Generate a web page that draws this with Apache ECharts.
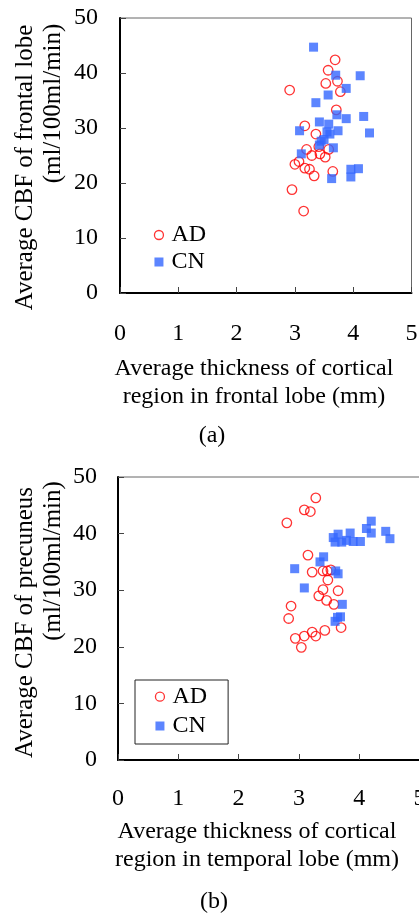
<!DOCTYPE html>
<html>
<head>
<meta charset="utf-8">
<script src="https://cdn.jsdelivr.net/npm/echarts@6/dist/echarts.min.js"></script>
<style>
  html, body { margin: 0; padding: 0; background: #fff; }
  #chart { width: 419px; height: 913px; }
</style>
</head>
<body>
<div id="chart"></div>
<script>
// (a) frontal lobe
const adFrontalX = [3.69, 3.57, 3.53, 3.73, 3.78, 2.91, 3.71, 3.17, 3.36, 3.20, 3.41, 3.58, 3.29, 3.43, 3.52, 3.07, 3.00, 3.17, 3.25, 3.33, 3.65, 2.95, 3.15]
const adFrontalY = [42.4, 40.5, 38.1, 38.5, 36.6, 36.9, 33.3, 30.4, 28.9, 26.1, 26.6, 26.1, 25.0, 25.3, 24.7, 23.9, 23.4, 22.7, 22.5, 21.3, 22.1, 18.8, 14.9]
const cnFrontalX = [3.32, 3.70, 4.12, 3.88, 3.57, 3.36, 3.72, 3.88, 4.18, 3.42, 3.58, 3.08, 3.74, 4.28, 3.60, 3.50, 3.45, 3.42, 3.66, 3.11, 3.96, 4.09, 3.96, 3.63, 3.55]
const cnFrontalY = [44.7, 39.6, 39.5, 37.2, 36.0, 34.6, 32.4, 31.7, 32.1, 31.1, 30.7, 29.5, 29.5, 29.1, 28.9, 27.9, 27.6, 26.9, 26.4, 25.3, 22.5, 22.6, 21.1, 20.8, 29.3]

// (b) precuneus vs temporal lobe
const adPrecX = [3.28, 3.09, 3.19, 2.80, 3.15, 3.22, 3.40, 3.47, 3.53, 3.48, 3.40, 3.65, 3.33, 3.46, 3.58, 2.87, 2.83, 3.22, 3.43, 3.70, 2.94, 3.09, 3.28, 3.04]
const adPrecY = [46.3, 44.2, 43.9, 41.9, 36.2, 33.2, 33.4, 33.4, 33.6, 31.8, 30.1, 29.9, 29.0, 28.2, 27.5, 27.2, 25.0, 22.6, 22.9, 23.4, 21.5, 21.9, 21.9, 19.9]
const cnPrecX = [4.20, 4.12, 4.20, 4.44, 4.51, 3.85, 3.65, 3.57, 3.60, 3.71, 3.90, 4.02, 3.79, 3.41, 3.35, 2.93, 3.61, 3.65, 3.09, 3.72, 3.69, 3.64, 3.60]
const cnPrecY = [42.2, 40.9, 40.1, 40.4, 39.1, 40.1, 39.9, 39.3, 38.5, 38.5, 38.6, 38.6, 38.8, 35.9, 35.0, 33.8, 33.4, 32.9, 30.4, 27.5, 25.3, 25.2, 24.5]

const xTicks = ['0', '1', '2', '3', '4', '5']
const yTicks = ['0', '10', '20', '30', '40', '50']
const seriesNames = ['AD', 'CN']

const FONT = 'Liberation Serif'
const RED = '#ff0000'
const BLUE = '#3366ff'

const pairs = (xs, ys) => xs.map((x, i) => [x, ys[i]])

function xAxisOf(gridIndex, margin) {
  return {
    gridIndex, type: 'value', min: 0, max: 5, interval: 1,
    axisLine: { onZero: false, lineStyle: { color: '#000', width: 2 } },
    axisTick: { inside: true, length: 6, lineStyle: { color: '#444' } },
    axisLabel: { margin, fontSize: 24, fontFamily: FONT, color: '#000', formatter: v => xTicks[v] },
    splitLine: { show: false }
  }
}
function yAxisOf(gridIndex, margin) {
  return {
    gridIndex, type: 'value', min: 0, max: 50, interval: 10,
    axisLine: { show: true, onZero: false, lineStyle: { color: '#000', width: 2 } },
    axisTick: { show: true, inside: true, length: 6, lineStyle: { color: '#444' } },
    axisLabel: { margin, fontSize: 24, fontFamily: FONT, color: '#000', formatter: v => yTicks[v / 10] },
    splitLine: { show: false }
  }
}
function adSeries(idx, data) {
  return {
    name: seriesNames[0], type: 'scatter', xAxisIndex: idx, yAxisIndex: idx,
    symbol: 'circle', symbolSize: 9.5, data,
    itemStyle: { color: 'rgba(255,255,255,0)', borderColor: RED, borderWidth: 1.3 }
  }
}
function cnSeries(idx, data) {
  return {
    name: seriesNames[1], type: 'scatter', xAxisIndex: idx, yAxisIndex: idx,
    symbol: 'rect', symbolSize: 9, data,
    itemStyle: { color: BLUE }
  }
}
const legendData = [
  { name: seriesNames[0], icon: 'circle', itemStyle: { color: 'rgba(255,255,255,0)', borderColor: RED, borderWidth: 1.3 } },
  { name: seriesNames[1], icon: 'rect', itemStyle: { color: BLUE } }
]
const legendText = { fontSize: 24, fontFamily: FONT, color: '#000', padding: [0, 0, 0, 3] }
function titleText(x, y, text, rotate, size) {
  return {
    type: 'text', x, y, rotation: rotate ? Math.PI / 2 : 0,
    style: { text, font: (size || 24) + 'px "' + FONT + '"', fill: '#000', align: 'center', verticalAlign: 'middle' }
  }
}

const chart = echarts.init(document.getElementById('chart'), null, { renderer: 'canvas' })
chart.setOption({
  animation: false,
  grid: [
    { left: 120, top: 18, width: 291.5, height: 275, show: true, borderColor: '#666', borderWidth: 1, outerBoundsMode: 'none' },
    { left: 118, top: 477, width: 301.5, height: 283, show: true, borderColor: '#666', borderWidth: 1, outerBoundsMode: 'none' }
  ],
  xAxis: [xAxisOf(0, 29), xAxisOf(1, 27)],
  yAxis: [yAxisOf(0, 22), yAxisOf(1, 21)],
  legend: [
    {
      data: legendData, orient: 'vertical', left: 153.8, top: 223, padding: 0, itemGap: 3,
      itemWidth: 9, itemHeight: 9, selectedMode: false, textStyle: legendText
    },
    {
      data: legendData, orient: 'vertical', left: 135, top: 680, padding: [4.7, 21, 6, 19.8], itemGap: 5.3,
      itemWidth: 9, itemHeight: 9, selectedMode: false, borderColor: '#222', borderWidth: 1,
      textStyle: legendText
    }
  ],
  graphic: [
    titleText(25, 167.5, 'Average CBF of frontal lobe', true, 25),
    titleText(53, 103.5, '(ml/100ml/min)', true, 25),
    titleText(254, 368.5, 'Average thickness of cortical', false),
    titleText(254, 396.5, 'region in frontal lobe (mm)', false),
    titleText(212, 436, '(a)', false),
    titleText(25, 622.5, 'Average CBF of precuneus', true, 25),
    titleText(53, 561, '(ml/100ml/min)', true, 25),
    titleText(257, 832, 'Average thickness of cortical', false),
    titleText(257, 860, 'region in temporal lobe (mm)', false),
    titleText(214, 901.5, '(b)', false)
  ],
  series: [
    adSeries(0, pairs(adFrontalX, adFrontalY)),
    cnSeries(0, pairs(cnFrontalX, cnFrontalY)),
    adSeries(1, pairs(adPrecX, adPrecY)),
    cnSeries(1, pairs(cnPrecX, cnPrecY))
  ]
})
</script>
</body>
</html>
